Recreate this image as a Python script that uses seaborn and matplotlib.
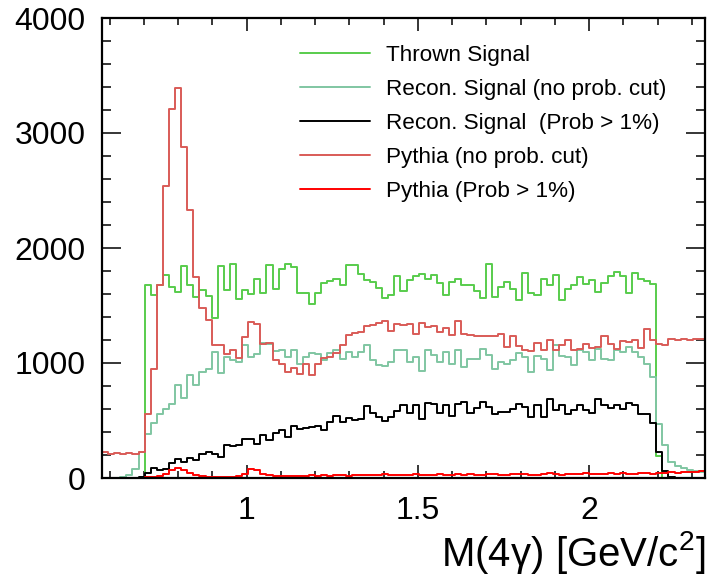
import numpy as np
import pandas as pd
import matplotlib
matplotlib.use("Agg")
import matplotlib.pyplot as plt
from matplotlib.ticker import MultipleLocator, FormatStrFormatter
import seaborn as sns

# binning of the M(4gamma) histograms
m_lo, m_hi, n_bins = 0.578, 2.338, 99

# bin contents (bin 0 .. bin 98)
thrown = [0, 0, 0, 0, 0, 0, 0,
          1676, 1589, 1676, 1763, 1661, 1618, 1841, 1676, 1574, 1632,
          1583, 1394, 1841, 1632, 1864, 1557, 1632, 1603, 1734, 1609,
          1855, 1647, 1821, 1864, 1835, 1609, 1605, 1516, 1609, 1699,
          1713, 1734, 1681, 1850, 1855, 1777, 1719, 1705, 1652, 1565,
          1594, 1757, 1626, 1719, 1757, 1771, 1728, 1768, 1699, 1589,
          1705, 1728, 1681, 1681, 1626, 1565, 1858, 1574, 1661, 1702,
          1641, 1551, 1783, 1612, 1594, 1728, 1681, 1768, 1551, 1647,
          1681, 1748, 1690, 1719, 1618, 1699, 1754, 1792, 1754, 1612,
          1786, 1728, 1713, 1684, 195,
          0, 0, 0, 0, 0, 0, 0]

recon = [0, 0, 0, 5, 29, 80, 226,
         380, 478, 557, 603, 645, 809, 695, 893, 813, 920,
         948, 1100, 913, 1055, 1030, 1010, 1160, 1052, 1081, 1174,
         1163, 1102, 1116, 1052, 1116, 994, 1052, 1087, 1076, 1023,
         1087, 1116, 1038, 1096, 1052, 1096, 1160, 1023, 980, 971,
         1009, 1116, 1116, 1009, 1052, 931, 1116, 1067, 1009, 1096,
         994, 1116, 965, 1038, 1038, 1125, 1067, 951, 1009, 990,
         1023, 1087, 1052, 922, 1058, 1038, 942, 1154, 1058, 1052,
         980, 1116, 1096, 1023, 1125, 1038, 1029, 1110, 1096, 1139,
         1096, 1052, 994, 878, 473,
         284, 139, 102, 87, 73, 61, 52]

recon_prob = [0, 0, 0, 0, 0, 0, 5,
              40, 85, 67, 81, 131, 168, 139, 177, 154, 206,
              226, 206, 183, 284, 275, 284, 342, 342, 293, 371,
              333, 391, 415, 357, 449, 429, 435, 443, 449, 415,
              487, 536, 490, 520, 505, 515, 626, 565, 530, 493,
              530, 583, 632, 565, 632, 516, 652, 641, 565, 638,
              539, 641, 661, 565, 609, 661, 617, 559, 574, 578,
              603, 641, 617, 530, 632, 530, 690, 594, 632, 559,
              594, 638, 594, 568, 684, 632, 612, 632, 603, 652,
              632, 559, 559, 481, 222,
              60, 5, 0, 0, 0, 0, 0]

pythia = [226, 206, 220, 206, 220, 206, 228,
          554, 951, 1676, 2539, 3209, 3392, 2878, 2328, 1748, 1482,
          1371, 1154, 1154, 1081, 1110, 1047, 1226, 1357, 1342, 1168,
          1170, 1023, 994, 922, 958, 905, 990, 893, 994, 1040,
          1055, 1090, 1160, 1241, 1261, 1270, 1319, 1328, 1351, 1365,
          1276, 1342, 1328, 1336, 1255, 1351, 1313, 1319, 1270, 1305,
          1241, 1365, 1255, 1241, 1232, 1232, 1232, 1235, 1255, 1142,
          1232, 1145, 1110, 1102, 1174, 1110, 1197, 1116, 1160, 1197,
          1116, 1125, 1168, 1131, 1139, 1232, 1168, 1119, 1189, 1183,
          1197, 1131, 1293, 1203, 1168,
          1160, 1209, 1203, 1212, 1203, 1212, 1206]

pythia_prob = [0, 0, 0, 0, 0, 0, 2,
               5, 8, 15, 32, 67, 87, 67, 44, 23, 15,
               12, 10, 12, 10, 12, 15, 32, 75, 67, 38,
               23, 18, 15, 20, 18, 15, 20, 22, 18, 25,
               20, 22, 28, 20, 25, 30, 22, 28, 25, 32,
               25, 30, 22, 28, 32, 25, 30, 28, 35, 25,
               30, 32, 28, 35, 30, 25, 32, 38, 30, 28,
               35, 32, 38, 30, 28, 35, 40, 32, 30, 38,
               35, 32, 40, 35, 38, 32, 40, 36, 42, 35,
               38, 45, 40, 38, 45,
               42, 48, 45, 50, 48, 55, 58]

labels = ["Thrown Signal", "Recon. Signal (no prob. cut)",
          "Recon. Signal  (Prob > 1%)", "Pythia (no prob. cut)",
          "Pythia (Prob > 1%)"]
colors = ["#58cc4c", "#80c6a2", "#000000", "#d95b57", "#ff0000"]

edges = np.linspace(m_lo, m_hi, n_bins + 1)
centers = 0.5 * (edges[:-1] + edges[1:])

sns.set_style("ticks")
plt.rcParams['font.family'] = ['Liberation Sans', 'DejaVu Sans']
plt.rcParams['text.color'] = 'black'
plt.rcParams['mathtext.fontset'] = 'custom'
plt.rcParams['mathtext.rm'] = 'Liberation Sans'
plt.rcParams['mathtext.it'] = 'Liberation Sans'

fig = plt.figure(figsize=(7.1, 5.76), dpi=100)
ax = fig.add_axes([102 / 710, 1 - 478 / 576, 603 / 710, 460 / 576])

for vals, lab, col in zip([thrown, recon, recon_prob, pythia, pythia_prob], labels, colors):
    df = pd.DataFrame({"mass": centers, "entries": vals})
    sns.histplot(data=df, x="mass", weights="entries", bins=n_bins,
                 binrange=(m_lo, m_hi), element="step", fill=False,
                 color=col, linewidth=1.4, label=lab, ax=ax)

ax.set_xlim(m_lo, m_hi)
ax.set_ylim(0, 4000)
ax.xaxis.set_major_locator(MultipleLocator(0.5))
ax.xaxis.set_minor_locator(MultipleLocator(0.1))
ax.xaxis.set_major_formatter(FormatStrFormatter('%g'))
ax.yaxis.set_major_locator(MultipleLocator(1000))
ax.yaxis.set_minor_locator(MultipleLocator(200))

ax.tick_params(which='both', direction='in', top=True, right=True, width=1.1,
               labelsize=23, colors='black')
ax.tick_params(axis='y', which='major', length=13.5, pad=12)
ax.tick_params(axis='y', which='minor', length=6.8)
ax.tick_params(axis='x', which='major', length=9.4, pad=13)
ax.tick_params(axis='x', which='minor', length=4.7)
for sp in ax.spines.values():
    sp.set_linewidth(1.6)
    sp.set_color('black')

ax.set_ylabel("")
ax.set_xlabel("M(4\u03b3) [GeV/c$^{2}$]", fontsize=29, loc='right', labelpad=2,
              color='black')

ax.legend(loc='upper left', bbox_to_anchor=(300 / 710, 1 - 45 / 576),
          bbox_transform=fig.transFigure, frameon=False, fontsize=16.2,
          labelcolor='black', handlelength=3.1, handletextpad=0.72,
          labelspacing=0.58, borderpad=0, borderaxespad=0)

fig.savefig("out.png", dpi=100)
